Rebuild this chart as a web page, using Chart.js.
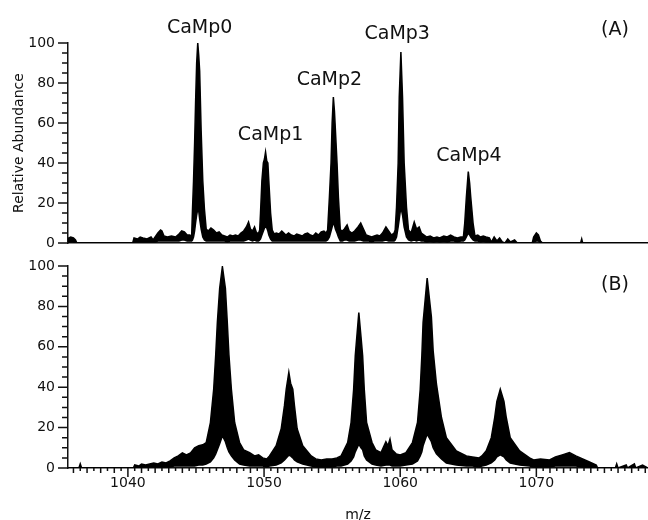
<!doctype html>
<html>
<head>
<meta charset="utf-8">
<title>CaMp mass spectra</title>
<script src="https://cdn.jsdelivr.net/npm/chart.js"></script>
<style>
  body { margin: 0; background: #fff; }
  #wrap { position: relative; width: 648px; height: 520px; overflow: hidden; }
  canvas { position: absolute; left: 0; }
  #chartA { top: 0; }
  #chartB { top: 250px; }
</style>
</head>
<body>
<div id="wrap">
  <canvas id="chartA" width="648" height="250"></canvas>
  <canvas id="chartB" width="648" height="270"></canvas>
</div>
<script>
// shared m/z axis
const mzMin = 1035.6;
const mzMax = 1078.2;
const xTickLabels = [1040, 1050, 1060, 1070];
const yTickLabels = [0, 20, 40, 60, 80, 100];

// panel (A): m/z, upper and lower edge of the noisy trace
const aMz = [
  1035.6, 1035.65, 1035.8, 1036.0, 1036.15, 1036.25, 1040.35, 1040.45, 1040.7, 1040.9,
  1041.1, 1041.4, 1041.7, 1041.85, 1042.0, 1042.2, 1042.4, 1042.5, 1042.65, 1042.9,
  1043.2, 1043.5, 1043.75, 1043.95, 1044.15, 1044.35, 1044.55, 1044.68, 1044.74, 1044.82,
  1044.9, 1044.97, 1045.05, 1045.13, 1045.2, 1045.27, 1045.38, 1045.5, 1045.62, 1045.75,
  1045.9, 1046.1, 1046.3, 1046.5, 1046.7, 1046.9, 1047.1, 1047.3, 1047.5, 1047.7,
  1047.9, 1048.1, 1048.3, 1048.5, 1048.7, 1048.86, 1049.0, 1049.15, 1049.3, 1049.45,
  1049.6, 1049.68, 1049.74, 1049.84, 1049.95, 1050.03, 1050.11, 1050.2, 1050.28, 1050.35,
  1050.48, 1050.6, 1050.75, 1050.9, 1051.1, 1051.3, 1051.45, 1051.6, 1051.8, 1052.0,
  1052.2, 1052.4, 1052.6, 1052.8, 1053.0, 1053.2, 1053.4, 1053.6, 1053.8, 1054.0,
  1054.2, 1054.4, 1054.55, 1054.67, 1054.8, 1054.92, 1055.0, 1055.09, 1055.17, 1055.24,
  1055.36, 1055.46, 1055.6, 1055.75, 1055.9, 1056.1, 1056.25, 1056.45, 1056.65, 1056.9,
  1057.1, 1057.3, 1057.5, 1057.7, 1057.9, 1058.1, 1058.3, 1058.5, 1058.7, 1058.95,
  1059.15, 1059.35, 1059.55, 1059.63, 1059.73, 1059.85, 1059.93, 1060.05, 1060.17, 1060.29,
  1060.46, 1060.61, 1060.8, 1061.03, 1061.2, 1061.39, 1061.55, 1061.75, 1061.95, 1062.2,
  1062.45, 1062.7, 1062.9, 1063.2, 1063.45, 1063.7, 1063.95, 1064.2, 1064.45, 1064.64,
  1064.74, 1064.86, 1065.0, 1065.1, 1065.18, 1065.35, 1065.49, 1065.7, 1065.9, 1066.1,
  1066.3, 1066.55, 1066.7, 1066.9, 1067.1, 1067.3, 1067.5, 1067.7, 1067.9, 1068.1,
  1068.4, 1068.6, 1069.7, 1069.8, 1070.0, 1070.15, 1070.3, 1070.45, 1073.25, 1073.33,
  1073.4, 1078.2
];
const aHi = [
  0, 2.5, 3, 2.5, 1.5, 0, 0, 2.5, 2, 3,
  2.5, 2, 3, 1.5, 3, 5, 6.5, 6, 3.5, 3,
  3.5, 3, 4.5, 6, 5.5, 4, 4, 3, 16, 31,
  50, 70, 90, 100, 94, 86, 56, 31, 17, 7,
  6, 7.5, 6.5, 5, 5.5, 4, 3.5, 3, 4, 3.5,
  4, 3.5, 5, 6, 8, 10.5, 7, 6, 8, 5,
  5, 6.5, 15, 31, 40, 42, 45.5, 41, 40, 31,
  15, 6.5, 4.5, 5, 4.5, 6, 5, 4, 5, 4,
  3.5, 4.5, 4, 3.5, 4.5, 5, 4, 3.5, 5, 4,
  5.5, 6, 5, 6.5, 23, 40, 60, 73, 66, 56.5,
  40, 23, 6.5, 6, 7, 9, 6, 5, 6, 8,
  10, 7, 4, 3.5, 3, 3.5, 4, 3.5, 5, 8,
  6, 4, 5, 6.5, 18, 40, 73, 95.5, 73, 40,
  18, 6.5, 5, 10.5, 7, 8, 5, 4, 3, 3.5,
  2.5, 3, 2.5, 3.5, 3, 4, 3, 2.5, 3, 3,
  10, 23, 35.7, 30, 23, 10, 3.5, 4, 3, 3.5,
  3, 2.5, 0.5, 3, 1, 2.5, 0.5, 0, 2, 0.5,
  1.5, 0, 0, 3, 5, 4, 1, 0, 0, 2,
  0, 0
];
const aLo = [
  0, 0.5, 0.5, 0.5, 0, 0, 0, 0.5, 0.5, 0.5,
  0.5, 0.5, 0.5, 0.5, 0.5, 1, 1, 1, 1, 1,
  1, 1, 1, 1.5, 1.5, 1, 1, 1, 1.5, 3,
  6, 10, 14, 17, 16, 12, 7, 3, 1.5, 1,
  1, 1, 1, 1, 1, 1, 1, 0.5, 1, 1,
  1, 1, 1, 1, 1.5, 2, 1.5, 1, 1.5, 1,
  1, 1.5, 2, 4, 6, 7.5, 8, 7.5, 6, 4,
  2, 1, 1, 1, 1, 1, 1, 1, 1, 1,
  1, 1, 1, 1, 1, 1, 1, 1, 1, 1,
  1, 1, 1, 1.5, 3, 6, 8, 10, 9, 7,
  5, 3, 1, 1, 1.5, 1.5, 1, 1, 1, 1.5,
  1.5, 1, 1, 1, 0.5, 1, 1, 1, 1, 1.5,
  1, 1, 1, 1.5, 3, 8, 12, 18, 14, 8,
  3, 1.5, 1, 1.5, 1, 1.5, 1, 1, 0.5, 1,
  0.5, 1, 0.5, 1, 0.5, 1, 1, 0.5, 1, 1,
  1.5, 3, 5, 4, 3, 1.5, 1, 1, 0.5, 1,
  0.5, 0.5, 0, 0.5, 0, 0.5, 0, 0, 0.5, 0,
  0, 0, 0, 0.5, 1, 1, 0, 0, 0, 0,
  0, 0
];

// peak names of panel (A) and where their text sits (m/z, abundance of baseline)
const peakNames = ['CaMp0', 'CaMp1', 'CaMp2', 'CaMp3', 'CaMp4'];
const peakLabelMz = [1045.27, 1050.48, 1054.8, 1059.78, 1065.05];
const peakLabelLevel = [105, 51.5, 79, 101.8, 41];

// panel (B)
const bMz = [
  1035.6, 1036.4, 1036.5, 1036.6, 1040.4, 1040.5, 1040.8, 1041.0, 1041.3, 1041.6,
  1041.9, 1042.2, 1042.5, 1042.8, 1043.1, 1043.4, 1043.7, 1044.0, 1044.3, 1044.6,
  1044.9, 1045.2, 1045.5, 1045.75, 1046.06, 1046.3, 1046.45, 1046.57, 1046.74, 1046.94,
  1047.16, 1047.3, 1047.42, 1047.6, 1047.84, 1048.2, 1048.5, 1048.94, 1049.3, 1049.6,
  1049.9, 1050.2, 1050.4, 1050.89, 1051.26, 1051.5, 1051.63, 1051.82, 1051.95, 1052.11,
  1052.23, 1052.43, 1052.84, 1053.46, 1053.8, 1054.2, 1054.6, 1055.0, 1055.35, 1055.66,
  1056.14, 1056.39, 1056.58, 1056.7, 1056.96, 1057.12, 1057.24, 1057.36, 1057.53, 1057.93,
  1058.2, 1058.59, 1058.95, 1059.1, 1059.25, 1059.4, 1059.7, 1060.0, 1060.42, 1060.9,
  1061.27, 1061.47, 1061.59, 1061.68, 1061.98, 1062.29, 1062.42, 1062.66, 1063.03, 1063.39,
  1064.12, 1064.86, 1065.3, 1065.8, 1066.0, 1066.32, 1066.69, 1066.94, 1067.1, 1067.35,
  1067.62, 1067.79, 1068.08, 1068.77, 1069.5, 1069.8, 1070.3, 1070.97, 1071.4, 1071.9,
  1072.43, 1072.9, 1073.4, 1073.9, 1074.4, 1074.5, 1075.8, 1075.9, 1076.0, 1076.6,
  1076.7, 1077.2, 1077.3, 1077.8, 1078.2
];
const bHi = [
  0, 0, 2, 0, 0, 1.5, 1, 2, 1.5, 2,
  2.5, 2, 3, 2.5, 3.5, 5, 6, 7.5, 6.5, 7.5,
  10, 11, 11.5, 12.6, 22.5, 39, 56, 72, 89, 99.7,
  89, 72, 56, 39, 22.5, 12.6, 9, 7.6, 6, 6.5,
  5, 4.5, 6, 11, 19.4, 31, 39, 47.4, 42, 39,
  31, 19.4, 11, 6, 4.5, 4, 4.5, 4.5, 5, 6,
  12.6, 22.5, 39, 55.7, 77, 65, 55.7, 39, 22.5, 12.6,
  9, 7.6, 13, 11, 14.3, 9, 7, 6.5, 7.6, 12.6,
  22.5, 39, 55.7, 72, 94, 74.8, 58, 41.6, 25, 15,
  8.5, 6, 5.5, 5, 6, 8.5, 15, 25, 33, 39,
  33, 25, 15, 8.5, 5, 4, 4.5, 4, 5.5, 6.5,
  7.6, 6, 4.5, 3, 1.5, 0, 0, 2, 0, 1.5,
  0, 2, 0, 1.5, 0
];
const bLo = [
  0, 0, 0, 0, 0, 0, 0, 0.5, 0.5, 0.5,
  0.5, 0.5, 0.5, 0.5, 0.5, 1, 1, 1, 1, 1,
  1, 1.5, 1.5, 2, 3, 5, 7, 9, 12, 16,
  13, 10, 8, 6, 4, 2, 1.5, 1, 1, 1,
  1, 0.5, 1, 1.5, 2.5, 4, 5, 6.3, 6, 5,
  4, 3, 2, 1, 0.5, 0.5, 0.5, 0.5, 1, 1,
  2, 3.5, 5.5, 8, 11.8, 10, 9, 6, 4, 2,
  1.5, 1, 1.5, 1.5, 1.5, 1, 1, 1, 1.5, 2,
  3.5, 6, 8, 11, 16.8, 13, 10, 7, 4.5, 2.5,
  1.5, 1, 1, 0.5, 1, 1.5, 2.5, 4, 5.5, 6.5,
  5.5, 4, 2.5, 1.5, 1, 0.5, 0.5, 0.5, 1, 1,
  1, 1, 0.5, 0.5, 0, 0, 0, 0, 0, 0,
  0, 0, 0, 0, 0
];

const ink = '#111';
Chart.defaults.font.family = '"DejaVu Sans", sans-serif';
Chart.defaults.color = ink;

// tick marks: majors and minors on y, halves/units/tens on x
const tickMarks = {
  id: 'tickMarks',
  afterDraw(chart, args, opts) {
    const ctx = chart.ctx, area = chart.chartArea;
    const x = chart.scales.x, y = chart.scales.y;
    ctx.save();
    ctx.strokeStyle = ink;
    ctx.lineWidth = 1.5;
    ctx.beginPath();
    for (let v = 0; v <= 100; v += 5) {
      const py = y.getPixelForValue(v);
      const len = v % 20 === 0 ? 10 : 6;
      ctx.moveTo(area.left - len, py);
      ctx.lineTo(area.left, py);
    }
    if (opts.minorX) {
      for (let i = 1036 * 2; i <= 1078 * 2; i++) {
        const v = i / 2;
        const px = x.getPixelForValue(v);
        const len = v % 10 === 0 ? 9 : (i % 2 === 0 ? 5 : 3);
        ctx.moveTo(px, area.bottom);
        ctx.lineTo(px, area.bottom + len);
      }
    }
    ctx.stroke();
    ctx.restore();
  }
};

// peak names and the (A)/(B) panel tags
const panelText = {
  id: 'panelText',
  afterDraw(chart, args, opts) {
    const ctx = chart.ctx, area = chart.chartArea;
    const x = chart.scales.x, y = chart.scales.y;
    ctx.save();
    ctx.fillStyle = ink;
    ctx.font = '19px "DejaVu Sans", sans-serif';
    ctx.textAlign = 'center';
    ctx.textBaseline = 'alphabetic';
    (opts.names || []).forEach((n, i) => {
      ctx.fillText(n, x.getPixelForValue(opts.mz[i]), y.getPixelForValue(opts.level[i]));
    });
    ctx.textBaseline = 'middle';
    ctx.fillText(opts.tag, area.right - 33, area.top + opts.tagDy);
    ctx.restore();
  }
};

function spectrum(mz, hi, lo) {
  return [
    {
      data: mz.map((m, i) => ({ x: m, y: lo[i] })),
      borderColor: '#000', borderWidth: 1.5, pointRadius: 0, fill: false
    },
    {
      data: mz.map((m, i) => ({ x: m, y: hi[i] })),
      borderColor: '#000', backgroundColor: '#000', borderWidth: 1.5, pointRadius: 0, fill: '-1'
    }
  ];
}

function panelOptions(cfg) {
  return {
    responsive: false,
    animation: false,
    events: [],
    layout: { padding: cfg.padding },
    plugins: {
      legend: { display: false },
      tooltip: { enabled: false },
      tickMarks: { minorX: cfg.minorX },
      panelText: cfg.text
    },
    scales: {
      x: {
        type: 'linear',
        min: mzMin,
        max: mzMax,
        grid: { display: false, drawTicks: false },
        border: { display: true, color: ink, width: 1.5 },
        afterBuildTicks: s => { s.ticks = xTickLabels.map(v => ({ value: v })); },
        afterFit: s => { s.height = cfg.xHeight; },
        ticks: {
          display: cfg.minorX,
          padding: 7,
          maxRotation: 0,
          font: { size: 14 },
          callback: v => String(v)
        },
        title: {
          display: cfg.minorX,
          text: 'm/z',
          padding: 0,
          font: { size: 14, lineHeight: 0.7 }
        }
      },
      y: {
        min: 0,
        max: 100,
        // tick marks come from the plugin; tickLength only spaces the labels
        grid: { display: false, drawTicks: true, tickLength: 13 },
        border: { display: true, color: ink, width: 1.5 },
        afterBuildTicks: s => { s.ticks = yTickLabels.map(v => ({ value: v })); },
        afterFit: s => { s.width = 68; },
        ticks: { padding: 0, font: { size: 14, lineHeight: 1 } },
        title: {
          display: cfg.yTitle,
          text: 'Relative Abundance',
          padding: { top: 11, bottom: 0 },
          font: { size: 14 }
        }
      }
    }
  };
}

new Chart(document.getElementById('chartA'), {
  type: 'line',
  data: { datasets: spectrum(aMz, aHi, aLo) },
  options: panelOptions({
    padding: { top: 43, bottom: 7, left: 0, right: 0 },
    xHeight: 0,
    minorX: false,
    yTitle: true,
    text: { names: peakNames, mz: peakLabelMz, level: peakLabelLevel, tag: '(A)', tagDy: -13 }
  }),
  plugins: [tickMarks, panelText]
});

new Chart(document.getElementById('chartB'), {
  type: 'line',
  data: { datasets: spectrum(bMz, bHi, bLo) },
  options: panelOptions({
    padding: { top: 16, bottom: 0, left: 0, right: 0 },
    xHeight: 52,
    minorX: true,
    yTitle: false,
    text: { names: [], mz: [], level: [], tag: '(B)', tagDy: 19 }
  }),
  plugins: [tickMarks, panelText]
});
</script>
</body>
</html>
